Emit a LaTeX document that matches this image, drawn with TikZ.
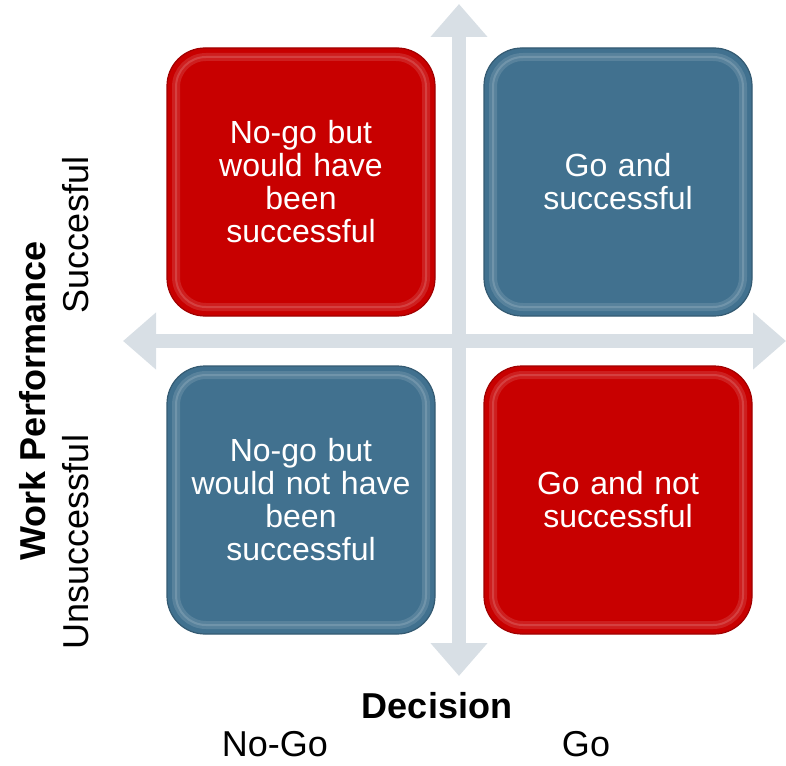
\documentclass[tikz,border=0pt]{standalone}
\usepackage{fontspec}
\setmainfont{Liberation Sans}
\usetikzlibrary{arrows.meta}
\definecolor{MyRed}{HTML}{C80000}
\definecolor{MyBlue}{HTML}{41718F}
\definecolor{MyAxis}{HTML}{D8DFE5}

\tikzset{
  tile/.style={rounded corners=38pt, minimum width=268pt, minimum height=268pt,
    text width=240pt, align=center, text=white, font=\fontsize{32}{33}\selectfont,
    fill=#1, draw=#1!80!black, line width=1.2pt,
    path picture={\draw[white, opacity=0.12, line width=8pt, rounded corners=30pt]
      ([xshift=9pt,yshift=-9pt]path picture bounding box.north west) rectangle
      ([xshift=-9pt,yshift=9pt]path picture bounding box.south east);
      \draw[white, opacity=0.15, line width=2pt, rounded corners=30pt]
      ([xshift=9pt,yshift=-9pt]path picture bounding box.north west) rectangle
      ([xshift=-9pt,yshift=9pt]path picture bounding box.south east);}},
  axisline/.style={draw=MyAxis, line width=14pt,
    {Triangle[width=55pt,length=33pt]}-{Triangle[width=55pt,length=33pt]}},
  axistext/.style={font=\fontsize{36}{40}\selectfont}
}

\begin{document}
\begin{tikzpicture}[x=1pt,y=-1pt]
            \useasboundingbox (0,0) rectangle (786,765);

            % axes
            \coordinate (west) at (123,341);
            \coordinate (east) at (786,341);
            \coordinate (north) at (459,4);
            \coordinate (south) at (459,676);
            \draw[axisline] (west) -- (east);
            \draw[axisline] (south) -- (north);

            % quadrants
            \node[tile=MyRed] (nogoyes) at (301,182) {No-go but\\would have\\been\\successful};
            \node[tile=MyBlue] (goyes) at (618,182) {Go and\\successful};
            \node[tile=MyBlue] (nogono) at (301,500) {No-go but\\would not have\\been\\successful};
            \node[tile=MyRed] (gono) at (618,500) {Go and not\\successful};

            % labels
            \node[axistext, anchor=base] (decision) at (437,718) {\bfseries Decision};
            \node[axistext, anchor=base, inner sep=0pt] (nogo) at (275,756) {No-Go};
            \node[axistext, anchor=base, inner sep=0pt] (go) at (586,756) {Go};
            \node[axistext, rotate=90] (work) at (33,401) {\bfseries Work Performance};
            \node[axistext, rotate=90] (succ) at (76,235) {Succesful};
            \node[axistext, rotate=90] (unsucc) at (76,542) {Unsuccessful};
\end{tikzpicture}
\end{document}
